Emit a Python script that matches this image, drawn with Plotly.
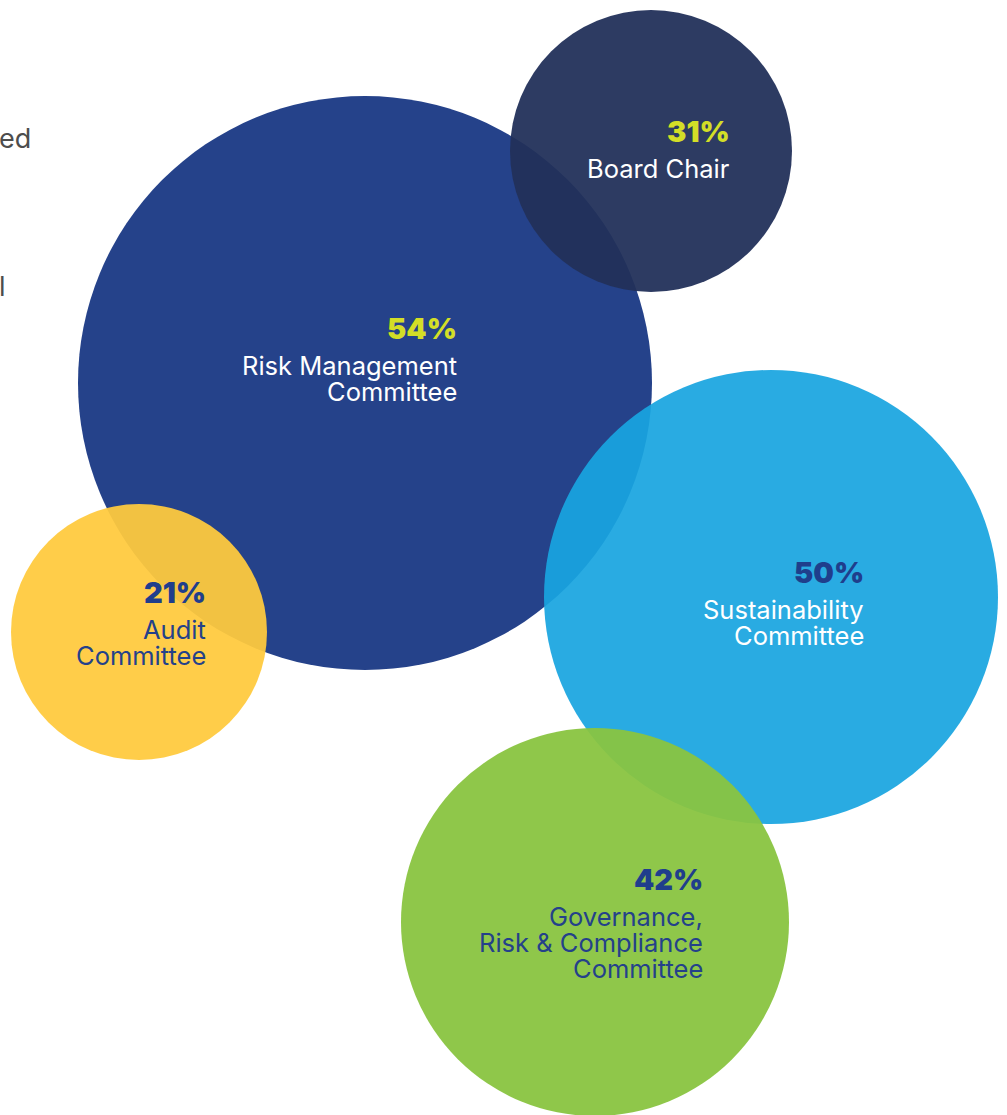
import plotly.graph_objects as go

# ---- data ----
categories = ["Risk Management<br>Committee", "Board Chair", "Sustainability<br>Committee",
              "Audit<br>Committee", "Governance,<br>Risk & Compliance<br>Committee"]
values = [54, 31, 50, 21, 42]

# ---- layout of bubbles (pixel space) ----
bubble_x = [365, 651, 771, 139, 595]
bubble_y = [383, 151, 597, 632, 922]
bubble_r = [287, 141, 227, 128, 194]
bubble_colors = ["#25428A", "#22305A", "#19A5E0", "#FFCA3E", "#89C440"]
bubble_opacity = [1.0, 0.95, 0.93, 0.94, 0.95]
text_right = [459, 732, 866, 208, 705]
pct_y = [328, 131, 572, 592, 879]
pct_colors = ["#D3DE27", "#D3DE27", "#1F3E8C", "#1F3E8C", "#1F3E8C"]
label_colors = ["#FFFFFF", "#FFFFFF", "#FFFFFF", "#24418A", "#24418A"]

W, H = 1007, 1115
FONT = "Inter, sans-serif"

fig = go.Figure()
for i in range(len(values)):
    fig.add_trace(go.Scatter(
        x=[bubble_x[i]], y=[bubble_y[i]], mode="markers",
        marker=dict(size=2 * bubble_r[i], color=bubble_colors[i],
                    opacity=bubble_opacity[i], line=dict(width=0)),
        hoverinfo="skip", showlegend=False, cliponaxis=False))

annotations = []
for i in range(len(values)):
    annotations.append(dict(
        x=text_right[i], y=pct_y[i], xref="x", yref="y", xanchor="right", yanchor="middle",
        text=f"{values[i]}%", showarrow=False,
        font=dict(family=FONT, size=29, weight=900, color=pct_colors[i])))
    lines = categories[i].split("<br>")
    for j, ln in enumerate(lines):
        annotations.append(dict(
            x=text_right[i], y=pct_y[i] + 37 + 26 * j, xref="x", yref="y",
            xanchor="right", yanchor="middle", text=ln, showarrow=False,
            font=dict(family=FONT, size=25.5, color=label_colors[i])))

# partial page text at the left edge
annotations.append(dict(x=33, y=138, xref="x", yref="y", xanchor="right", yanchor="middle",
                        text="ed", showarrow=False, font=dict(family=FONT, size=27, color="#4D4D4D")))
annotations.append(dict(x=0, y=286, xref="x", yref="y", xanchor="left", yanchor="middle",
                        xshift=-3, text="l", showarrow=False,
                        font=dict(family=FONT, size=27, color="#4D4D4D")))

fig.update_layout(
    width=W, height=H, margin=dict(l=0, r=0, t=0, b=0),
    paper_bgcolor="white", plot_bgcolor="white",
    xaxis=dict(range=[0, W], visible=False, fixedrange=True),
    yaxis=dict(range=[H, 0], visible=False, fixedrange=True),
    annotations=annotations, showlegend=False)

fig.write_html("out.html")
